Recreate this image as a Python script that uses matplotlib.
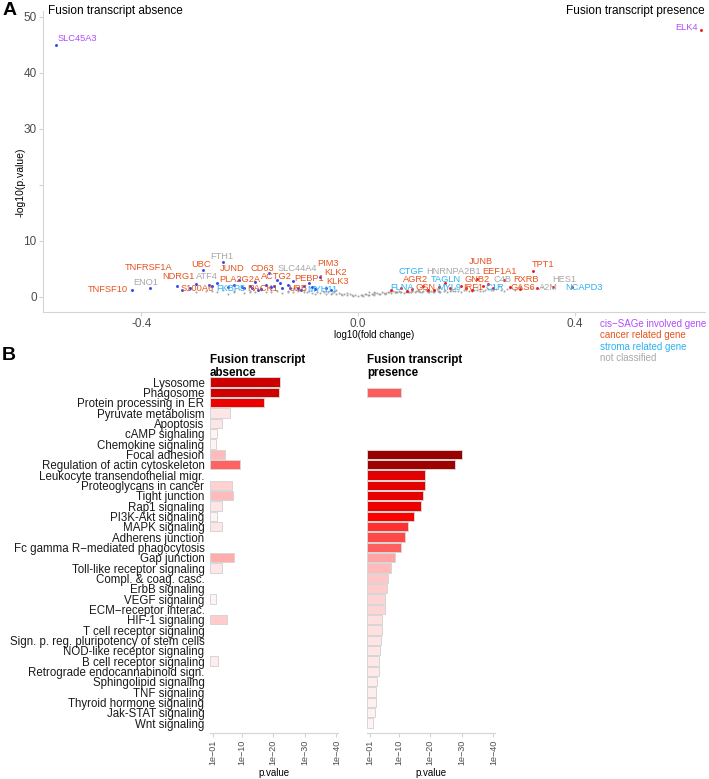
import numpy as np
import matplotlib.pyplot as plt
from matplotlib.colors import LinearSegmentedColormap

plt.rcParams["font.family"] = ["Liberation Sans", "DejaVu Sans"]

# ---------------- Panel A data (volcano) ----------------
gene_names = ["TNFRSF1A", "UBC", "FTH1", "JUND", "CD63", "SLC44A4", "PIM3", "KLK2", "KLK3",
              "NDRG1", "ATF4", "PLA2G2A", "ACTG2", "PEBP1", "ENO1", "TNFSF10", "S100A6",
              "FKBP5", "RACK1", "UBB", "MYH11", "CTGF", "HNRNPA2B1", "JUNB", "TPT1", "EEF1A1",
              "AGR2", "TAGLN", "GNB2", "C4B", "RXRB", "HES1", "FLNA", "GSN", "MYL9", "IRF1",
              "C1R", "GAS6", "A2M", "NCAPD3", "SLC45A3", "ELK4"]
label_x = [-0.386, -0.290, -0.251, -0.233, -0.177, -0.113, -0.055, -0.041, -0.037,
           -0.331, -0.279, -0.218, -0.150, -0.091, -0.392, -0.462, -0.298,
           -0.235, -0.176, -0.111, -0.065, 0.099, 0.177, 0.227, 0.341, 0.262,
           0.107, 0.163, 0.220, 0.266, 0.311, 0.381, 0.081, 0.125, 0.169, 0.213,
           0.253, 0.305, 0.351, 0.417, -0.518, 0.606]
label_y = [5.18, 5.71, 7.14, 5.0, 5.0, 5.0, 5.89, 4.29, 2.68,
           3.57, 3.57, 3.04, 3.57, 3.21, 2.5, 1.25, 1.43,
           1.43, 1.43, 1.43, 1.25, 4.46, 4.46, 6.25, 5.71, 4.46,
           3.04, 3.04, 3.04, 3.04, 3.04, 3.04, 1.61, 1.61, 1.61, 1.61,
           1.61, 1.61, 1.61, 1.61, 46.07, 48.2]
gene_class = ["cancer", "cancer", "none", "cancer", "cancer", "none", "cancer", "cancer", "cancer",
              "cancer", "none", "cancer", "cancer", "cancer", "none", "cancer", "cancer",
              "stroma", "cancer", "cancer", "stroma", "stroma", "none", "cancer", "cancer", "cancer",
              "cancer", "stroma", "cancer", "none", "cancer", "none", "stroma", "cancer", "stroma", "cancer",
              "stroma", "cancer", "none", "stroma", "cis", "cis"]

down_x = [-0.558, -0.418, -0.384, -0.335, -0.31, -0.30, -0.287, -0.25, -0.27, -0.26, -0.24,
          -0.23, -0.22, -0.21, -0.20, -0.19, -0.18, -0.17, -0.165, -0.16, -0.15, -0.14,
          -0.13, -0.12, -0.11, -0.10, -0.09, -0.08, -0.07, -0.06, -0.05, -0.325, -0.275,
          -0.215, -0.185, -0.145, -0.105, -0.085, -0.195, -0.155, -0.125]
down_y = [45.0, 1.25, 1.5, 2.0, 1.6, 2.3, 4.8, 6.3, 1.9, 2.5, 1.7,
          2.2, 3.0, 1.5, 2.0, 2.6, 1.4, 2.2, 4.3, 1.7, 3.0, 1.5,
          2.1, 2.8, 1.6, 1.9, 2.4, 1.4, 3.6, 1.6, 1.3, 1.3, 2.2,
          1.8, 1.2, 2.4, 1.2, 1.8, 1.6, 1.9, 1.5]
up_x = [0.634, 0.06, 0.08, 0.10, 0.12, 0.13, 0.15, 0.16, 0.17, 0.19, 0.20, 0.22, 0.24,
        0.25, 0.27, 0.28, 0.323, 0.36, 0.395, 0.09, 0.14, 0.21, 0.23, 0.30, 0.33]
up_y = [47.7, 1.2, 1.6, 1.4, 2.0, 1.3, 1.7, 2.4, 1.5, 2.0, 1.6, 3.2, 2.3,
        1.5, 3.0, 1.7, 4.7, 1.7, 1.7, 1.1, 1.2, 1.3, 1.9, 1.4, 1.6]
gray_x = [-0.30, -0.28, -0.26, -0.25, -0.24, -0.23, -0.22, -0.21, -0.20, -0.19, -0.18,
          -0.17, -0.16, -0.15, -0.14, -0.13, -0.12, -0.11, -0.10, -0.09, -0.08, -0.075,
          -0.07, -0.065, -0.06, -0.055, -0.05, -0.045, -0.04, -0.035, -0.03, -0.025, -0.02,
          -0.015, -0.01, -0.005, 0.0, 0.005, 0.01, 0.015, 0.02, 0.025, 0.03, 0.035, 0.04,
          0.045, 0.05, 0.055, 0.06, 0.065, 0.07, 0.075, 0.08, 0.085, 0.09, 0.095, 0.10,
          0.105, 0.11, 0.115, 0.12, 0.125, 0.13, 0.135, 0.14, 0.145, 0.15, 0.16, 0.17,
          0.18, 0.19, 0.20, 0.21, 0.22, 0.23, 0.24, 0.25, 0.26, 0.27, 0.28, 0.29, 0.30,
          0.32, 0.34, -0.12, -0.08, -0.04, 0.02, 0.06, 0.10, 0.14, 0.18, 0.22, 0.03,
          0.07, 0.11, 0.15, -0.02, -0.06, -0.10, -0.14, -0.18,
          -0.095, -0.085, -0.062, -0.048, -0.032, -0.012, 0.008, 0.018, 0.028, 0.038,
          0.048, 0.058, 0.068, 0.078, 0.088, 0.098, 0.108, 0.118, 0.128, 0.138, 0.148,
          0.158, 0.165, 0.175, 0.185, 0.195, 0.205, 0.215, 0.225, 0.235, 0.245, 0.255,
          0.265, 0.275, 0.012, 0.032, 0.052, 0.072, 0.092, 0.112, 0.132, 0.152, 0.172,
          -0.11, -0.13, -0.16, -0.20, -0.23, -0.27]
gray_y = [0.9, 1.1, 0.8, 1.3, 0.6, 1.0, 1.4, 0.7, 1.1, 0.9, 1.3,
          0.8, 1.2, 1.0, 0.7, 1.1, 0.9, 1.2, 0.8, 1.0, 0.6, 0.9,
          0.7, 1.0, 0.5, 0.8, 0.6, 0.9, 0.5, 0.7, 0.4, 0.6, 0.3,
          0.5, 0.2, 0.4, 0.1, 0.4, 0.2, 0.5, 0.3, 0.6, 0.4, 0.7, 0.5,
          0.8, 0.6, 0.9, 0.7, 1.0, 0.8, 1.1, 0.9, 0.7, 1.0, 0.8, 1.1,
          0.9, 1.2, 0.8, 1.0, 1.3, 0.9, 1.1, 1.0, 1.4, 0.8, 1.2, 1.0,
          1.5, 0.9, 1.3, 1.1, 1.7, 1.0, 1.4, 1.2, 1.9, 1.1, 1.6, 1.3,
          2.0, 1.5, 1.8, 1.6, 1.5, 1.2, 0.9, 1.1, 1.0, 0.95, 1.05, 1.2, 0.8,
          0.9, 1.0, 1.1, 0.7, 1.0, 1.3, 1.5, 1.6,
          0.9, 0.7, 0.8, 0.7, 0.5, 0.3, 0.3, 0.4, 0.5, 0.6,
          0.7, 0.8, 0.85, 0.9, 0.95, 0.85, 1.0, 0.9, 1.05, 0.95, 1.1,
          1.0, 0.9, 1.1, 1.0, 1.2, 1.05, 1.25, 1.1, 1.3, 1.15, 1.35,
          1.2, 1.4, 0.5, 0.65, 0.75, 0.95, 0.8, 1.0, 0.85, 0.9, 1.15,
          1.0, 0.8, 0.9, 0.8, 0.9, 1.0]

# ---------------- Panel B data (pathways) ----------------
pathways = ["Lysosome", "Phagosome", "Protein processing in ER", "Pyruvate metabolism",
            "Apoptosis", "cAMP signaling", "Chemokine signaling", "Focal adhesion",
            "Regulation of actin cytoskeleton", "Leukocyte transendothelial migr.",
            "Proteoglycans in cancer", "Tight junction", "Rap1 signaling", "PI3K-Akt signaling",
            "MAPK signaling", "Adherens junction", "Fc gamma R\u2212mediated phagocytosis",
            "Gap junction", "Toll-like receptor signaling", "Compl. & coag. casc.",
            "ErbB signaling", "VEGF signaling", "ECM\u2212receptor interac.", "HIF-1 signaling",
            "T cell receptor signaling", "Sign. p. reg. pluripotency of stem cells",
            "NOD-like receptor signaling", "B cell receptor signaling",
            "Retrograde endocannabinoid sign.", "Sphingolipid signaling", "TNF signaling",
            "Thyroid hormone signaling", "Jak-STAT signaling", "Wnt signaling"]
# -log10(p) per pathway, 0 = not enriched
absence = [22.1, 21.7, 17.0, 6.3, 3.7, 2.3, 2.0, 4.6, 9.5, 0, 6.9, 7.2, 3.9, 2.3, 3.7,
           0, 0, 7.7, 3.7, 0, 0, 1.8, 0, 5.3, 0, 0, 0, 2.4, 0, 0, 0, 0, 0, 0]
absence_fill = [22, 21.5, 17, 4, 4, 2, 2, 7.5, 10.5, 0, 6, 7.5, 4, 2, 4,
                0, 0, 8.5, 4, 0, 0, 2, 0, 6.5, 0, 0, 0, 3, 0, 0, 0, 0, 0, 0]
presence = [0, 10.7, 0, 0, 0, 0, 0, 30.0, 27.8, 18.3, 18.3, 17.7, 17.0, 15.0, 12.9,
            11.9, 10.6, 8.9, 7.5, 6.7, 6.4, 5.8, 5.8, 4.8, 4.7, 4.3, 4.1, 3.9, 3.8,
            3.2, 3.0, 2.8, 2.5, 2.0]
xticks_b = [1, 10, 20, 30, 40]
xtick_labels_b = ["1e\u221201", "1e\u221210", "1e\u221220", "1e\u221230", "1e\u221240"]

reds = LinearSegmentedColormap.from_list("reds", [
    (0 / 30, "#FFFFFF"), (2 / 30, "#FFF4F4"), (4 / 30, "#FFE6E6"), (6 / 30, "#FFD2D2"),
    (8 / 30, "#FFB4B4"), (9 / 30, "#FFA2A2"), (10 / 30, "#FF6A6A"), (12 / 30, "#FF4646"),
    (15 / 30, "#FF0000"), (18 / 30, "#E40000"), (22 / 30, "#CC0000"), (28 / 30, "#9E0000"),
    (1.0, "#990000")])

col_map = {"cancer": "#E8531F", "stroma": "#2CB2F2", "none": "#A8A8A8", "cis": "#B04CFF"}
axis_col = "#D4D4D4"
tick_txt = "#4D4D4D"

fig = plt.figure(figsize=(7.09, 7.79), dpi=100)

# ---------------- Panel A ----------------
axA = fig.add_axes([0.0606, 0.5995, 0.9338, 0.3859])
axA.scatter(gray_x, gray_y, s=2.2, color="#9A9A9A", linewidths=0, alpha=0.85)
axA.scatter(down_x, down_y, s=4.5, color="#3048EE", linewidths=0)
axA.scatter(up_x, up_y, s=4.5, color="#EE1A1A", linewidths=0)
for g, lx, ly, c in zip(gene_names, label_x, label_y, gene_class):
    axA.text(lx, ly, g, color=col_map[c], fontsize=6.7, ha="center", va="center")

axA.set_xlim(-0.582, 0.641)
axA.set_ylim(-2.7, 51)
axA.set_xticks([-0.4, 0.0, 0.4])
axA.set_xticklabels(["-0.4", "0.0", "0.4"])
axA.set_yticks([0, 10, 20, 30, 40, 50])
axA.set_yticklabels(["0", "10", "", "30", "40", "50"])
for s in ["top", "right"]:
    axA.spines[s].set_visible(False)
for s in ["left", "bottom"]:
    axA.spines[s].set_color(axis_col)
axA.tick_params(colors=axis_col, labelcolor=tick_txt, labelsize=8.5, length=3, pad=1.5)
axA.set_xlabel("log10(fold change)", fontsize=7, labelpad=0)
axA.set_ylabel("-log10(p.value)", fontsize=7.5)
axA.yaxis.set_label_coords(-0.026, 0.43)
axA.text(0.008, 1.0, "Fusion transcript absence", transform=axA.transAxes,
         fontsize=8.5, ha="left", va="center")
axA.text(1.0, 1.0, "Fusion transcript presence", transform=axA.transAxes,
         fontsize=8.5, ha="right", va="center")

fig.text(0.003, 0.987, "A", fontsize=14, fontweight="bold", ha="left", va="center")
fig.text(0.003, 0.544, "B", fontsize=14, fontweight="bold", ha="left", va="center")

leg_items = [("cis\u2212SAGe involved gene", "cis"), ("cancer related gene", "cancer"),
             ("stroma related gene", "stroma"), ("not classified", "none")]
for i, (t, c) in enumerate(leg_items):
    fig.text(600 / 709, 1 - (324 + 11.3 * i) / 779, t, color=col_map[c], fontsize=7,
             ha="left", va="center")

# ---------------- Panel B ----------------
rows = np.arange(len(pathways))
w = 128 / 709
panels = [(210 / 709, absence, absence_fill, "Fusion transcript\nabsence"),
          (367 / 709, presence, presence, "Fusion transcript\npresence")]
for k, (left, vals, fills, title) in enumerate(panels):
    ax = fig.add_axes([left, 0.059, w, 0.4596])
    keep = [i for i, v in enumerate(vals) if v > 0]
    colors = [reds(min(fills[i], 30) / 30) for i in keep]
    ax.barh(rows[keep], [vals[i] for i in keep], height=0.88, color=colors,
            edgecolor="#D6D6D6", linewidth=0.7)
    ax.set_ylim(33.97, -0.68)
    ax.set_xlim(0, 40.5)
    ax.set_xticks(xticks_b)
    ax.set_xticklabels(xtick_labels_b, rotation=90)
    ax.tick_params(axis="x", colors=axis_col, labelcolor=tick_txt, labelsize=6.5,
                   length=3, pad=1.5)
    ax.set_xlabel("p.value", fontsize=7, labelpad=2.5)
    for s in ["top", "right", "left"]:
        ax.spines[s].set_visible(False)
    ax.spines["bottom"].set_color(axis_col)
    if k == 0:
        ax.set_yticks(rows)
        ax.set_yticklabels(pathways, fontsize=8.3, color="#1A1A1A")
        ax.tick_params(axis="y", length=0, pad=4)
    else:
        ax.set_yticks([])
    ax.text(0.0, 0.989, title, transform=ax.transAxes, fontsize=8.4, fontweight="bold",
            ha="left", va="bottom", linespacing=1.05)

fig.savefig("out.png", dpi=100)
